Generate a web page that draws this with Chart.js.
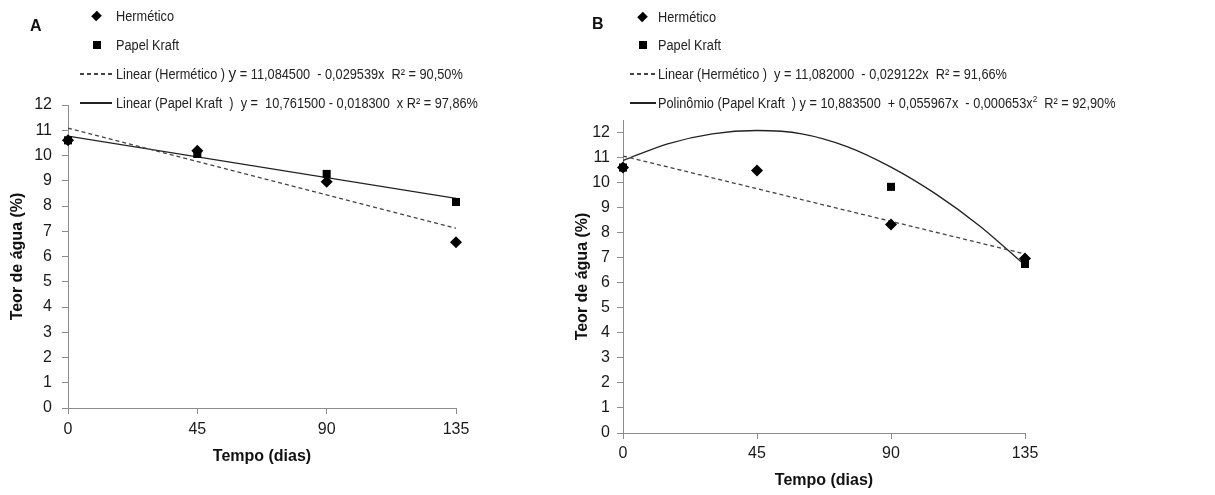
<!DOCTYPE html>
<html>
<head>
    <title>Teor de água</title>
    <script src="https://cdn.jsdelivr.net/npm/chart.js"></script>
    <style>
        body { margin: 0; background: #fff; font-family: "Liberation Sans", Arial, sans-serif; }
        .wrap { position: relative; width: 1215px; height: 495px; overflow: hidden; }
        canvas { position: absolute; top: 0; }
        .painel { position: absolute; font-weight: bold; font-size: 16px; color: #111; }
        .item { position: absolute; white-space: pre; font-size: 14px; color: #222;
                transform: scaleX(0.91); transform-origin: left center; line-height: 16px; }
        .mk { position: absolute; background: #000; }
        .dia { width: 7px; height: 8px; transform: rotate(45deg); }
        .sq { width: 8px; height: 8px; }
        .tr { height: 1.5px; }
        .tr.dash { background: repeating-linear-gradient(90deg, #444 0 4px, transparent 4px 7px); }
        .tr.solid { background: #222; }
        sup { font-size: 9px; line-height: 0; }
    </style>
</head>
<body>
<div class="wrap">
    <canvas id="graficoA" width="560" height="495" style="left:0"></canvas>
    <canvas id="graficoB" width="655" height="495" style="left:560px"></canvas>

    <div class="painel" style="left:30px;top:17px">A</div>
    <div class="painel" style="left:592px;top:15px">B</div>

    <!-- legenda A -->
    <div class="mk dia" style="left:93px;top:12px"></div>
    <div class="item" style="left:116px;top:8px">Hermético</div>
    <div class="mk sq" style="left:93px;top:41px"></div>
    <div class="item" style="left:116px;top:37px">Papel Kraft</div>
    <div class="tr dash" style="position:absolute;left:80px;top:73px;width:32px"></div>
    <div class="item" style="left:116px;top:66px">Linear (Hermético ) <span style="font-size:17px">y</span> = 11,084500  - 0,029539x  R² = 90,50%</div>
    <div class="tr solid" style="position:absolute;left:80px;top:102px;width:32px"></div>
    <div class="item" style="left:116px;top:95px">Linear (Papel Kraft  )  y =  10,761500 - 0,018300  x R² = 97,86%</div>

    <!-- legenda B -->
    <div class="mk dia" style="left:639px;top:13px"></div>
    <div class="item" style="left:658px;top:9px">Hermético</div>
    <div class="mk sq" style="left:639px;top:41px"></div>
    <div class="item" style="left:658px;top:37px">Papel Kraft</div>
    <div class="tr dash" style="position:absolute;left:630px;top:73px;width:27px"></div>
    <div class="item" style="left:658px;top:66px">Linear (Hermético )  y = 11,082000  - 0,029122x  R² = 91,66%</div>
    <div class="tr solid" style="position:absolute;left:630px;top:102px;width:26px"></div>
    <div class="item" style="left:658px;top:95px">Polinômio (Papel Kraft  ) y = 10,883500  + 0,055967x  - 0,000653x<sup>2</sup>  R² = 92,90%</div>
</div>

<script>
    // tempo de armazenamento (dias)
    const dias = [0, 45, 90, 135];

    // painel A
    const hermeticoA = [10.6, 10.19, 8.96, 6.56];
    const kraftA = [10.6, 10.06, 9.27, 8.16];
    const retaDiasA = [0, 135];
    const retaHermeticoA = [11.08, 7.12];
    const retaKraftA = [10.77, 8.30];

    // painel B
    const hermeticoB = [10.6, 10.48, 8.33, 6.97];
    const kraftB = [10.6, null, 9.83, 6.75];
    const retaDiasB = [0, 135];
    const retaHermeticoB = [11.06, 7.15];
    const curvaDiasB = [0, 15, 30, 45, 60, 75, 90, 105, 120, 135];
    const curvaKraftB = [10.88, 11.55, 11.95, 12.08, 11.95, 11.45, 10.62, 9.55, 8.25, 6.7];

    const yTicksA = { min: 0, max: 12 };
    const yTicksB = { min: 0, max: 12.5 };

    Chart.defaults.font.family = '"Liberation Sans", Arial, sans-serif';
    Chart.defaults.color = '#1a1a1a';

    function pares(xs, ys) {
        return xs.map((x, i) => ({ x: x, y: ys[i] }));
    }

    function pontos(label, ys, estilo, raio) {
        return {
            type: 'scatter', label: label, data: pares(dias, ys),
            pointStyle: estilo, pointRadius: raio, pointHoverRadius: raio,
            backgroundColor: '#000', borderColor: '#000', borderWidth: 0,
            clip: false
        };
    }

    function linha(label, xs, ys, tracejado) {
        return {
            type: 'line', label: label, data: pares(xs, ys),
            borderColor: tracejado ? '#444' : '#222', borderWidth: 1.3,
            borderDash: tracejado ? [4, 3] : [], pointRadius: 0,
            cubicInterpolationMode: 'monotone', fill: false
        };
    }

    function montar(id, datasets, cfg) {
        return new Chart(document.getElementById(id), {
            type: 'scatter',
            data: { datasets: datasets },
            options: {
                responsive: false,
                animation: false,
                layout: { padding: { top: cfg.top, right: cfg.right, left: 0, bottom: 0 } },
                plugins: { legend: { display: false }, tooltip: { enabled: false } },
                scales: {
                    x: {
                        type: 'linear', min: 0, max: 135,
                        ticks: { stepSize: 45, padding: cfg.xPad, font: { size: 16 } },
                        grid: { drawOnChartArea: false, drawTicks: true, tickLength: 6, color: '#8c8c8c' },
                        border: { display: true, color: '#8c8c8c', width: 1 },
                        title: { display: true, text: 'Tempo (dias)', font: { size: 16, weight: 'bold' },
                                 color: '#111', padding: { top: 0, bottom: cfg.xTitlePad } },
                        afterFit: s => { s.height = cfg.xH; }
                    },
                    y: {
                        min: cfg.y.min, max: cfg.y.max,
                        ticks: { stepSize: 1, includeBounds: false, padding: cfg.yPad, font: { size: 16 } },
                        grid: { drawOnChartArea: false, drawTicks: true, tickLength: 6, color: '#8c8c8c' },
                        border: { display: true, color: '#8c8c8c', width: 1 },
                        title: { display: true, text: 'Teor de água (%)', font: { size: 16, weight: 'bold' },
                                 color: '#111', padding: { top: cfg.yTitlePad, bottom: 0 } },
                        afterFit: s => { s.width = cfg.yW; }
                    }
                }
            }
        });
    }

    montar('graficoA', [
        pontos('Hermético', hermeticoA, 'rectRot', 6),
        pontos('Papel Kraft', kraftA, 'rect', 5.7),
        linha('Linear (Hermético)', retaDiasA, retaHermeticoA, true),
        linha('Linear (Papel Kraft)', retaDiasA, retaKraftA, false)
    ], { top: 105, right: 104, yW: 68, xH: 87, xPad: 6, yPad: 10, xTitlePad: 29, yTitlePad: 8, y: yTicksA });

    montar('graficoB', [
        pontos('Hermético', hermeticoB, 'rectRot', 6),
        pontos('Papel Kraft', kraftB, 'rect', 5.7),
        linha('Linear (Hermético)', retaDiasB, retaHermeticoB, true),
        linha('Polinômio (Papel Kraft)', curvaDiasB, curvaKraftB, false)
    ], { top: 120, right: 190, yW: 63, xH: 62, xPad: 5, yPad: 7, xTitlePad: 5, yTitlePad: 13, y: yTicksB });
</script>
</body>
</html>
